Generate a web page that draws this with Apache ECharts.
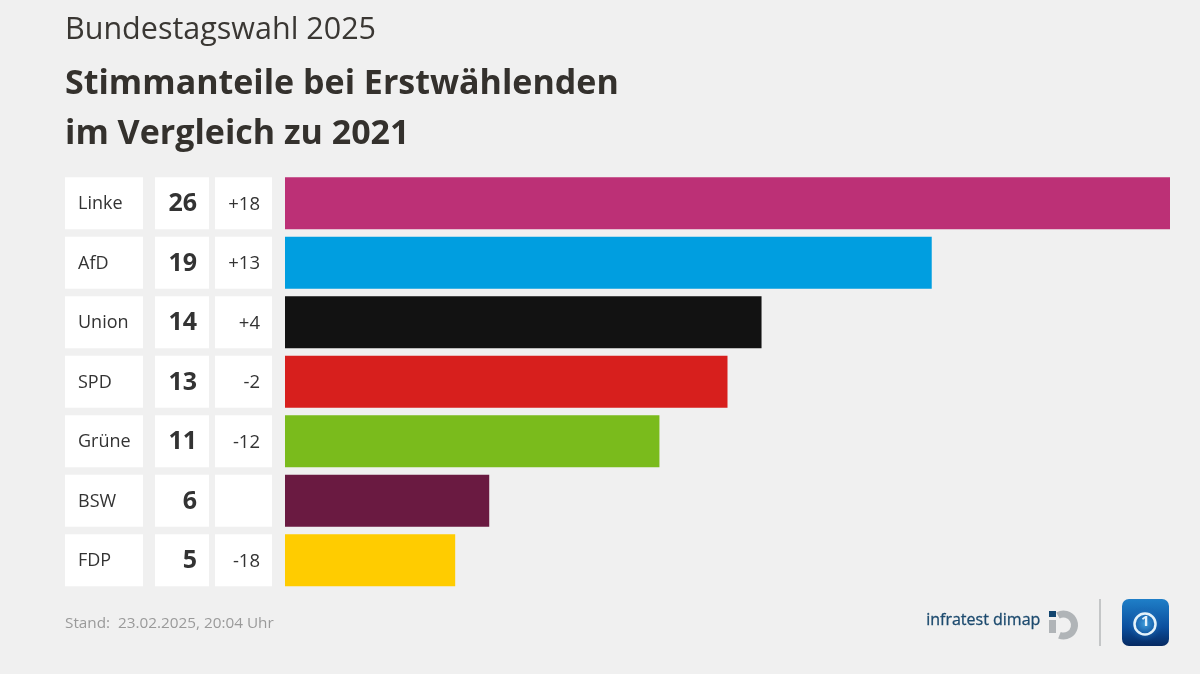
<!DOCTYPE html>
<html><head><meta charset="utf-8">
<style>html,body{margin:0;padding:0;background:#f0f0f0}#c{width:1200px;height:674px}</style>
<script src="https://cdn.jsdelivr.net/npm/echarts@6/dist/echarts.min.js"></script></head>
<body><div id="c"></div>
<script>
const parties = ['Linke','AfD','Union','SPD','Grüne','BSW','FDP'];
const shares = [26,19,14,13,11,6,5];
const changes = ['+18','+13','+4','-2','-12','','-18'];
const colors = ['#bc3076','#009ee0','#121212','#d71f1d','#7abb1c','#6a1a41','#ffcc00'];
const FONT = '"Open Sans"';
const chart = echarts.init(document.getElementById('c'));
function cellAxis(offset, width, align, pad, size, weight, text){
  return {
    type:'category', inverse:true, position:'left', offset, data:parties,
    axisLine:{show:false}, axisTick:{show:false}, splitLine:{show:false},
    axisLabel:{
      margin:0, interval:0, hideOverlap:false,
      formatter:(v,i)=>'{c|'+(text(i)===''?'\u00a0':text(i))+'}',
      rich:{c:{width:width-pad, height:50, lineHeight:50, padding:align==='left'?[2,0,0,pad]:[2,pad,0,0],
        align, backgroundColor:'#fff', color:'#333', fontFamily:FONT, fontSize:size, fontWeight:weight}}
    }
  };
}
chart.setOption({
  backgroundColor:'#f0f0f0', animation:false,
  title:[
    {text:'Bundestagswahl 2025',left:60,top:10,textStyle:{fontFamily:FONT,fontSize:30.5,fontWeight:'normal',color:'#3a3733'}},
    {text:'Stimmanteile bei Erstwählenden\nim Vergleich zu 2021',left:60,top:54,textStyle:{fontFamily:FONT,fontSize:34,fontWeight:'bold',color:'#34312d',lineHeight:50.5}},
    {text:'Stand:  23.02.2025, 20:04 Uhr',left:60,top:611,textStyle:{fontFamily:FONT,fontSize:15.3,fontWeight:'normal',color:'#9a9a9a'}}
  ],
  grid:{left:285,top:173.5,width:885,height:416.5,containLabel:false},
  xAxis:{type:'value',min:0,max:26,show:false},
  yAxis:[
    cellAxis(13,57,'right',12,18.5,'normal',i=>changes[i]),
    cellAxis(76,54,'right',12,25,'bold',i=>String(shares[i])),
    cellAxis(142,78,'left',13,18,'normal',i=>parties[i])
  ],
  series:[{type:'bar',barWidth:52,yAxisIndex:0,silent:true,
    data:shares.map((v,i)=>({value:v,itemStyle:{color:colors[i]}}))}],
  graphic:[
    {type:'text',left:926,top:612,style:{text:'infratest dimap',fontFamily:FONT,fontSize:16,fontWeight:'normal',fill:'#1c4a6e',stroke:'#1c4a6e',lineWidth:0.3}},
    {type:'rect',shape:{x:1049,y:611,width:7,height:6},style:{fill:'#12456f'}},
    {type:'rect',shape:{x:1049,y:620,width:7,height:13},style:{fill:'#b0b4b7'}},
    {type:'arc',shape:{cx:1063.5,cy:625,r:11,startAngle:-2.1,endAngle:1.95,clockwise:true},style:{fill:'none',stroke:'#b0b4b7',lineWidth:7}},
    {type:'rect',shape:{x:1099,y:599,width:2,height:47},style:{fill:'#c4c6c7'}},
    {type:'rect',shape:{x:1122,y:599,width:47,height:47,r:7},style:{fill:new echarts.graphic.LinearGradient(0,0,0,1,[{offset:0,color:'#1f7fc8'},{offset:0.6,color:'#0b4f9e'},{offset:1,color:'#062a62'}])}},
    {type:'circle',shape:{cx:1145,cy:624,r:18},style:{fill:new echarts.graphic.RadialGradient(0.5,0.5,0.5,[{offset:0,color:'#3fa0dc'},{offset:1,color:'rgba(20,90,170,0)'}])}},
    {type:'circle',shape:{cx:1145,cy:624,r:10.5},style:{fill:'none',stroke:'#e4f2fa',lineWidth:2.5}},
    {type:'text',left:1141,top:614,style:{text:'1',fontFamily:FONT,fontSize:15,fontWeight:'bold',fill:'#e4f2fa'}}
  ]
});
</script></body></html>
